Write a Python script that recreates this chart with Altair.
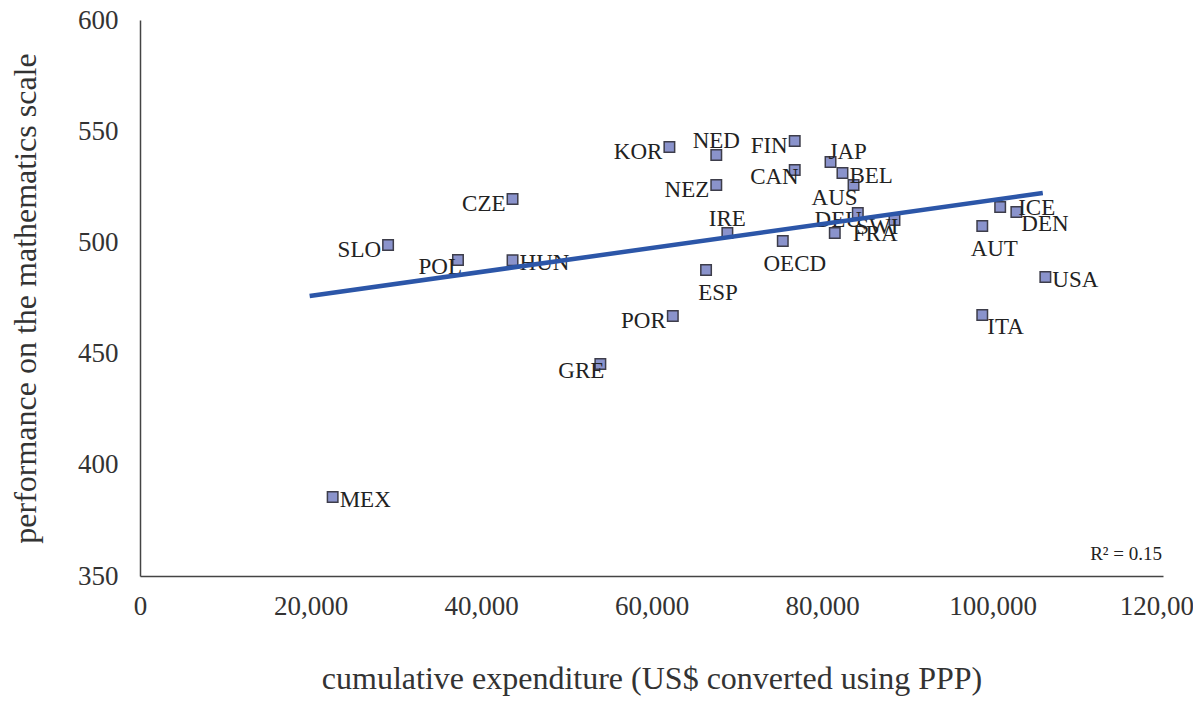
import altair as alt
import pandas as pd

countries = ["MEX", "SLO", "POL", "CZE", "HUN", "GRE", "KOR", "POR", "ESP", "NED",
             "NEZ", "IRE", "OECD", "FIN", "CAN", "JAP", "BEL", "AUS", "FRA", "DEU",
             "SWI", "AUT", "ITA", "ICE", "DEN", "USA"]
expenditure = [22600, 29100, 37300, 43700, 43700, 54000, 62100, 62500, 66400, 67600,
               67600, 68900, 75400, 76800, 76800, 81000, 82400, 83700, 81500, 84200,
               88500, 98800, 98800, 100900, 102800, 106200]
performance = [385.5, 498.8, 492.1, 519.5, 492.0, 445.3, 542.9, 466.9, 487.6, 539.3,
               525.8, 504.2, 500.6, 545.6, 532.6, 536.2, 531.2, 525.8, 504.2, 513.2,
               510.1, 507.4, 467.4, 515.9, 513.7, 484.4]
# where each label sits relative to its marker
placement = {
    "MEX": "right", "HUN": "right", "BEL": "right", "USA": "right",
    "ICE": "right_far", "FRA": "right_far",
    "SLO": "left", "CZE": "left", "KOR": "left", "POR": "left", "NEZ": "left", "FIN": "left",
    "POL": "left_over", "GRE": "left_over", "CAN": "left_over", "DEU": "left_over", "SWI": "left_over",
    "ESP": "below", "OECD": "below", "AUT": "below",
    "NED": "above", "IRE": "above",
    "JAP": "above_right",
    "AUS": "below_left",
    "ITA": "below_right", "DEN": "below_right",
}

trend_x = [19900, 105900]
trend_y = [475.9, 522.2]

df = pd.DataFrame({"country": countries, "exp": expenditure, "perf": performance})
df["place"] = [placement[c] for c in countries]
trend = pd.DataFrame({"exp": trend_x, "perf": trend_y})

FONT = "Liberation Serif"
xs = alt.Scale(domain=[0, 120000], nice=False)
ys = alt.Scale(domain=[350, 600], nice=False, zero=False)

x_enc = alt.X("exp:Q", scale=xs,
              axis=alt.Axis(values=[0, 20000, 40000, 60000, 80000, 100000, 120000], format=",d",
                            title="cumulative expenditure (US$ converted using PPP)",
                            labelFlush=False, labelPadding=17, titlePadding=44))
y_enc = alt.Y("perf:Q", scale=ys,
              axis=alt.Axis(values=[350, 400, 450, 500, 550, 600],
                            title="performance on the mathematics scale",
                            labelFlush=False, labelPadding=22, titlePadding=35))

points = alt.Chart(df).mark_square(size=110, fill="#8a93cc", stroke="#3d3d4a",
                                   strokeWidth=1.5, opacity=1).encode(x=x_enc, y=y_enc)

place_styles = {
    "right": dict(align="left", dx=7, dy=3),
    "right_far": dict(align="left", dx=18, dy=1),
    "left": dict(align="right", dx=-7, dy=5),
    "left_over": dict(align="right", dx=4, dy=7),
    "below": dict(align="center", dx=12, dy=23),
    "above": dict(align="center", dx=0, dy=-14),
    "above_right": dict(align="left", dx=-2, dy=-10),
    "below_left": dict(align="right", dx=4, dy=13),
    "below_right": dict(align="left", dx=5, dy=12),
}

label_layers = []
for key, st in place_styles.items():
    label_layers.append(
        alt.Chart(df).transform_filter(alt.datum.place == key)
        .mark_text(font=FONT, fontSize=23, color="#222222", baseline="middle", **st)
        .encode(x=x_enc, y=y_enc, text="country:N")
    )

line = alt.Chart(trend).mark_line(color="#2c56a8", strokeWidth=4.5).encode(x=x_enc, y=y_enc)

r2 = alt.Chart(pd.DataFrame({"exp": [120000], "perf": [360], "t": ["R\u00b2 = 0.15"]})).mark_text(
    font=FONT, fontSize=19, color="#222222", align="right", baseline="middle", dx=-1
).encode(x=x_enc, y=y_enc, text="t:N")

chart = alt.layer(points, *label_layers, line, r2).properties(
    width=1023, height=556,
    autosize=alt.AutoSizeParams(type="none"),
    padding={"left": 132, "top": 12, "right": 30, "bottom": 124},
).configure_view(stroke=None).configure_axis(
    grid=False, ticks=False, domainColor="#444444", domainWidth=1.5,
    labelFont=FONT, labelFontSize=27, labelColor="#333333",
    titleFont=FONT, titleFontSize=32, titleFontWeight="normal", titleColor="#333333",
)

chart.save("out.html", embed_options={"renderer": "svg", "actions": False})
